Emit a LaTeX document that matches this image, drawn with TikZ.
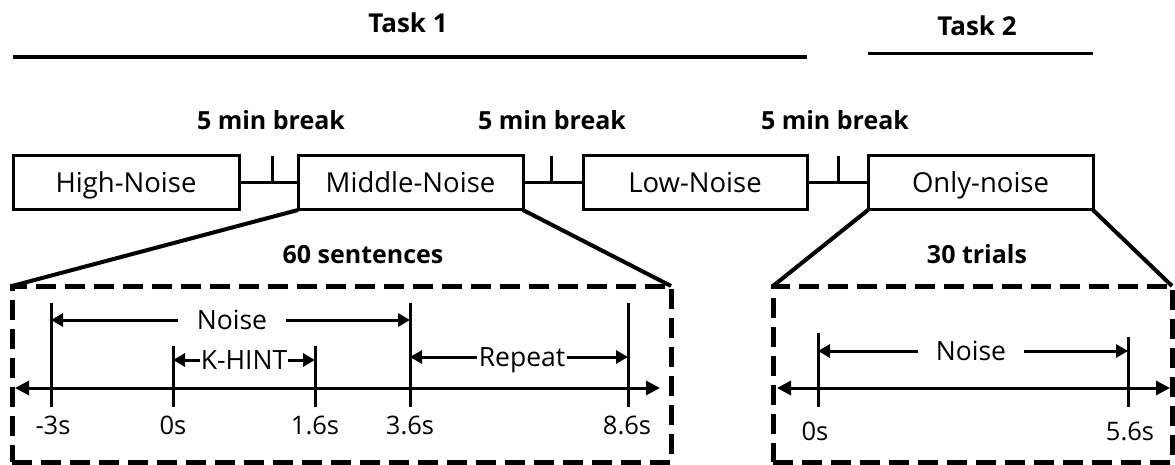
\documentclass[tikz,border=0pt]{standalone}
\usepackage{fontspec}
\setmainfont{Open Sans}
\usetikzlibrary{arrows.meta}
\begin{document}
\begin{tikzpicture}[x=1pt,y=-1pt,
  box/.style={draw, line width=3pt, outer sep=0pt, inner sep=0pt, minimum height=54pt,
    text height=19.5pt, text depth=0pt, font=\fontsize{27.5}{30}\selectfont},
  dbox/.style={draw, line width=5pt, dash pattern=on 20pt off 9pt, outer sep=0pt, inner sep=0pt, minimum height=176pt},
  lbl/.style={font=\bfseries\fontsize{25}{30}\selectfont, inner sep=0pt, anchor=base},
  tlab/.style={font=\fontsize{25.5}{30}\selectfont, inner sep=0pt, anchor=base},
  arrlab/.style={font=\fontsize{26.5}{30}\selectfont, inner ysep=0pt, text height=18.5pt, text depth=0pt},
  tickln/.style={line width=3pt},
  conn/.style={line width=3pt},
  zoomln/.style={line width=4pt},
  taskln/.style={line width=4pt},
  tline/.style={line width=3pt, {Triangle[length=14pt,width=14pt]}-{Triangle[length=14pt,width=14pt]}},
  sarr/.style={line width=3pt, -{Triangle[length=12pt,width=13pt]}},
]
\useasboundingbox (0,0) rectangle (1175,465);

% Task headers
\node[lbl, font=\bfseries\fontsize{26}{30}\selectfont] (task1) at (408,33) {Task 1};
\node[lbl, font=\bfseries\fontsize{26}{30}\selectfont] (task2) at (977,36) {Task 2};
\coordinate (t1l) at (13,57);
\coordinate (t1r) at (807,57);
\coordinate (t2l) at (868,54);
\coordinate (t2r) at (1093,54);
\draw[taskln] (t1l) -- (t1r);
\draw[line width=3pt] (t2l) -- (t2r);

% Condition boxes
\node[box, minimum width=226pt] (high) at (126,183) {High-Noise};
\node[box, minimum width=225pt] (mid) at (410.5,183) {Middle-Noise};
\node[box, minimum width=224pt] (low) at (695,183) {Low-Noise};
\node[box, minimum width=225pt] (only) at (980.5,183) {Only-noise};

% Break connectors
\draw[conn] (high.east) -- (mid.west);
\draw[conn] (mid.east) -- (low.west);
\draw[conn] (low.east) -- (only.west);
\coordinate (k1) at (272,156);
\coordinate (k2) at (551,156);
\coordinate (k3) at (838,156);
\draw[conn] (k1) -- (k1 |- high.east);
\draw[conn] (k2) -- (k2 |- mid.east);
\draw[conn] (k3) -- (k3 |- low.east);
\node[lbl] (br1) at (271,130) {5 min break};
\node[lbl] (br2) at (552,130) {5 min break};
\node[lbl] (br3) at (835,130) {5 min break};

% Detail boxes
\node[dbox, minimum width=659pt] (d1) at (341.5,374) {};
\node[dbox, minimum width=399pt] (d2) at (972.5,374) {};
\draw[zoomln] (mid.south west) -- (d1.north west);
\draw[zoomln] (mid.south east) -- (d1.north east);
\draw[zoomln] (only.south west) -- (d2.north west);
\draw[zoomln] (only.south east) -- (d2.north east);
\node[lbl] (sent) at (363,263) {60 sentences};
\node[lbl] (trials) at (977,263) {30 trials};

% Timeline 1
\coordinate (a1) at (15,388);
\coordinate (a2) at (660,388);
\draw[tline] (a1) -- (a2);
\coordinate (m1) at (51,303);
\coordinate (m2) at (173,346);
\coordinate (m3) at (315,346);
\coordinate (m4) at (410,303);
\coordinate (m5) at (628,303);
\foreach \m in {m1,m2,m3,m4,m5} \draw[tickln] (\m) -- (\m |- 0,407);
\node[tlab] (l1) at (53,434) {-3s};
\node[tlab] (l2) at (173,434) {0s};
\node[tlab] (l3) at (315,434) {1.6s};
\node[tlab] (l4) at (410,434) {3.6s};
\node[tlab] (l5) at (627,434) {8.6s};

\node[arrlab, inner xsep=19pt] (n1) at (232,320) {Noise};
\draw[sarr] (n1.west) -- (n1.west -| m1);
\draw[sarr] (n1.east) -- (n1.east -| m4);
\node[arrlab, inner xsep=1pt] (kh) at (244,360) {K-HINT};
\draw[sarr] (kh.west) -- (kh.west -| m2);
\draw[sarr] (kh.east) -- (kh.east -| m3);
\node[arrlab, inner xsep=2pt] (rp) at (522,357) {Repeat};
\draw[sarr] (rp.west) -- (rp.west -| m4);
\draw[sarr] (rp.east) -- (rp.east -| m5);

% Timeline 2
\coordinate (b1) at (777,388);
\coordinate (b2) at (1170,388);
\draw[tline] (b1) -- (b2);
\coordinate (p1) at (818,333);
\coordinate (p2) at (1128,337);
\foreach \m in {p1,p2} \draw[tickln] (\m) -- (\m |- 0,407);
\node[tlab] (q1) at (815,440) {0s};
\node[tlab] (q2) at (1130,440) {5.6s};
\node[arrlab, inner xsep=18pt] (n2) at (971,351) {Noise};
\draw[sarr] (n2.west) -- (n2.west -| p1);
\draw[sarr] (n2.east) -- (n2.east -| p2);
\end{tikzpicture}
\end{document}
